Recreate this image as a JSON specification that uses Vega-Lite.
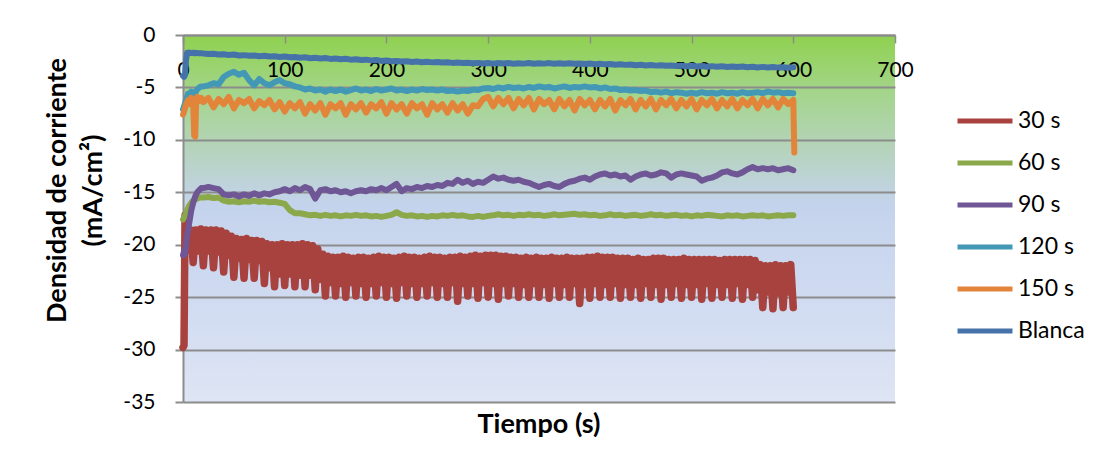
{
"$schema": "https://vega.github.io/schema/vega-lite/v6.json",
"width": 712,
"height": 367,
"autosize": {"type": "none"},
"padding": {"left": 183, "top": 35, "right": 211, "bottom": 69},
"background": "white",
"config": {
  "font": "Lato",
  "view": {"stroke": null, "fill": {"gradient": "linear", "x1": 0, "y1": 0, "x2": 0, "y2": 1, "stops": [
    {"offset": 0, "color": "#8FD14F"},
    {"offset": 0.16, "color": "#A4D58C"},
    {"offset": 0.3, "color": "#B4D3B8"},
    {"offset": 0.46, "color": "#C4D3EC"},
    {"offset": 0.72, "color": "#D0DBF1"},
    {"offset": 1, "color": "#DEE5F4"}]}},
  "axis": {"labelColor": "#000000", "titleColor": "#000000", "labelFont": "Lato", "titleFont": "Lato"}
},
"title": {"text": "Tiempo (s)", "orient": "bottom", "anchor": "middle", "frame": "group", "fontSize": 27, "fontWeight": "bold", "color": "#000000", "offset": 0},
"datasets": {
"r": [
{"t":0,"30 s":-29.8},{"t":1,"30 s":-29.6},{"t":2,"30 s":-17.2},{"t":2.5,"30 s":-18.4},{"t":5,"30 s":-20.5},{"t":7.5,"30 s":-18.6},{"t":10,"30 s":-21.7},{"t":12.5,"30 s":-18.6},{"t":15,"30 s":-20.6},{"t":17.5,"30 s":-18.5},{"t":20,"30 s":-22.0},{"t":22.5,"30 s":-18.6},{"t":25,"30 s":-20.6},{"t":27.5,"30 s":-18.6},{"t":30,"30 s":-22.2},{"t":32.5,"30 s":-18.6},{"t":35,"30 s":-20.7},{"t":37.5,"30 s":-18.7},{"t":40,"30 s":-22.6},{"t":42.5,"30 s":-18.9},{"t":45,"30 s":-21.0},{"t":47.5,"30 s":-19.2},{"t":50,"30 s":-23.1},{"t":52.5,"30 s":-19.4},{"t":55,"30 s":-21.3},{"t":57.5,"30 s":-19.5},{"t":60,"30 s":-23.2},{"t":62.5,"30 s":-19.4},{"t":65,"30 s":-21.4},{"t":67.5,"30 s":-19.6},{"t":70,"30 s":-23.2},{"t":72.5,"30 s":-19.6},{"t":75,"30 s":-21.5},{"t":77.5,"30 s":-19.7},{"t":80,"30 s":-23.7},{"t":82.5,"30 s":-19.9},{"t":85,"30 s":-22.2},{"t":87.5,"30 s":-20.0},{"t":90,"30 s":-24.0},{"t":92.5,"30 s":-20.0},{"t":95,"30 s":-22.8},{"t":97.5,"30 s":-19.9},{"t":100,"30 s":-23.9},{"t":102.5,"30 s":-20.0},{"t":105,"30 s":-22.8},{"t":107.5,"30 s":-20.0},{"t":110,"30 s":-24.0},{"t":112.5,"30 s":-20.0},{"t":115,"30 s":-22.9},{"t":117.5,"30 s":-19.9},{"t":120,"30 s":-24.0},{"t":122.5,"30 s":-20.0},{"t":125,"30 s":-22.9},{"t":127.5,"30 s":-20.1},{"t":130,"30 s":-24.3},{"t":132.5,"30 s":-20.4},{"t":135,"30 s":-23.3},{"t":137.5,"30 s":-20.9},{"t":140,"30 s":-24.9},{"t":142.5,"30 s":-21.1},{"t":145,"30 s":-23.6},{"t":147.5,"30 s":-21.2},{"t":150,"30 s":-24.9},{"t":152.5,"30 s":-21.2},{"t":155,"30 s":-23.7},{"t":157.5,"30 s":-21.1},{"t":160,"30 s":-25.0},{"t":162.5,"30 s":-21.2},{"t":165,"30 s":-23.6},{"t":167.5,"30 s":-21.3},{"t":170,"30 s":-24.9},{"t":172.5,"30 s":-21.2},{"t":175,"30 s":-23.7},{"t":177.5,"30 s":-21.2},{"t":180,"30 s":-25.0},{"t":182.5,"30 s":-21.3},{"t":185,"30 s":-23.7},{"t":187.5,"30 s":-21.2},{"t":190,"30 s":-24.9},{"t":192.5,"30 s":-21.1},{"t":195,"30 s":-23.6},{"t":197.5,"30 s":-21.2},{"t":200,"30 s":-25.0},{"t":202.5,"30 s":-21.2},{"t":205,"30 s":-23.7},{"t":207.5,"30 s":-21.3},{"t":210,"30 s":-25.1},{"t":212.5,"30 s":-21.2},{"t":215,"30 s":-23.6},{"t":217.5,"30 s":-21.1},{"t":220,"30 s":-24.9},{"t":222.5,"30 s":-21.2},{"t":225,"30 s":-23.7},{"t":227.5,"30 s":-21.2},{"t":230,"30 s":-25.0},{"t":232.5,"30 s":-21.3},{"t":235,"30 s":-23.7},{"t":237.5,"30 s":-21.2},{"t":240,"30 s":-24.9},{"t":242.5,"30 s":-21.1},{"t":245,"30 s":-23.6},{"t":247.5,"30 s":-21.2},{"t":250,"30 s":-25.0},{"t":252.5,"30 s":-21.2},{"t":255,"30 s":-23.7},{"t":257.5,"30 s":-21.3},{"t":260,"30 s":-25.0},{"t":262.5,"30 s":-21.2},{"t":265,"30 s":-23.6},{"t":267.5,"30 s":-21.2},{"t":270,"30 s":-25.4},{"t":272.5,"30 s":-21.1},{"t":275,"30 s":-23.7},{"t":277.5,"30 s":-21.2},{"t":280,"30 s":-24.9},{"t":282.5,"30 s":-21.1},{"t":285,"30 s":-23.7},{"t":287.5,"30 s":-21.0},{"t":290,"30 s":-25.1},{"t":292.5,"30 s":-21.1},{"t":295,"30 s":-23.6},{"t":297.5,"30 s":-21.0},{"t":300,"30 s":-25.0},{"t":302.5,"30 s":-21.0},{"t":305,"30 s":-23.7},{"t":307.5,"30 s":-21.0},{"t":310,"30 s":-25.2},{"t":312.5,"30 s":-21.1},{"t":315,"30 s":-23.7},{"t":317.5,"30 s":-21.1},{"t":320,"30 s":-24.9},{"t":322.5,"30 s":-21.2},{"t":325,"30 s":-23.7},{"t":327.5,"30 s":-21.2},{"t":330,"30 s":-25.0},{"t":332.5,"30 s":-21.3},{"t":335,"30 s":-23.8},{"t":337.5,"30 s":-21.2},{"t":340,"30 s":-25.0},{"t":342.5,"30 s":-21.3},{"t":345,"30 s":-23.7},{"t":347.5,"30 s":-21.2},{"t":350,"30 s":-25.0},{"t":352.5,"30 s":-21.3},{"t":355,"30 s":-23.8},{"t":357.5,"30 s":-21.3},{"t":360,"30 s":-25.1},{"t":362.5,"30 s":-21.2},{"t":365,"30 s":-23.7},{"t":367.5,"30 s":-21.3},{"t":370,"30 s":-25.0},{"t":372.5,"30 s":-21.3},{"t":375,"30 s":-23.8},{"t":377.5,"30 s":-21.2},{"t":380,"30 s":-25.0},{"t":382.5,"30 s":-21.3},{"t":385,"30 s":-23.7},{"t":387.5,"30 s":-21.3},{"t":390,"30 s":-25.6},{"t":392.5,"30 s":-21.3},{"t":395,"30 s":-23.8},{"t":397.5,"30 s":-21.2},{"t":400,"30 s":-25.1},{"t":402.5,"30 s":-21.2},{"t":405,"30 s":-23.7},{"t":407.5,"30 s":-21.1},{"t":410,"30 s":-25.0},{"t":412.5,"30 s":-21.2},{"t":415,"30 s":-23.8},{"t":417.5,"30 s":-21.2},{"t":420,"30 s":-25.0},{"t":422.5,"30 s":-21.2},{"t":425,"30 s":-23.7},{"t":427.5,"30 s":-21.3},{"t":430,"30 s":-25.1},{"t":432.5,"30 s":-21.3},{"t":435,"30 s":-23.8},{"t":437.5,"30 s":-21.3},{"t":440,"30 s":-25.0},{"t":442.5,"30 s":-21.4},{"t":445,"30 s":-23.8},{"t":447.5,"30 s":-21.3},{"t":450,"30 s":-25.1},{"t":452.5,"30 s":-21.4},{"t":455,"30 s":-23.7},{"t":457.5,"30 s":-21.4},{"t":460,"30 s":-25.0},{"t":462.5,"30 s":-21.3},{"t":465,"30 s":-23.8},{"t":467.5,"30 s":-21.3},{"t":470,"30 s":-25.2},{"t":472.5,"30 s":-21.3},{"t":475,"30 s":-23.8},{"t":477.5,"30 s":-21.4},{"t":480,"30 s":-25.0},{"t":482.5,"30 s":-21.4},{"t":485,"30 s":-23.7},{"t":487.5,"30 s":-21.4},{"t":490,"30 s":-25.1},{"t":492.5,"30 s":-21.3},{"t":495,"30 s":-23.8},{"t":497.5,"30 s":-21.4},{"t":500,"30 s":-25.0},{"t":502.5,"30 s":-21.4},{"t":505,"30 s":-23.8},{"t":507.5,"30 s":-21.4},{"t":510,"30 s":-25.2},{"t":512.5,"30 s":-21.4},{"t":515,"30 s":-23.7},{"t":517.5,"30 s":-21.4},{"t":520,"30 s":-25.1},{"t":522.5,"30 s":-21.4},{"t":525,"30 s":-23.8},{"t":527.5,"30 s":-21.5},{"t":530,"30 s":-25.0},{"t":532.5,"30 s":-21.4},{"t":535,"30 s":-23.8},{"t":537.5,"30 s":-21.4},{"t":540,"30 s":-25.1},{"t":542.5,"30 s":-21.4},{"t":545,"30 s":-23.7},{"t":547.5,"30 s":-21.4},{"t":550,"30 s":-25.2},{"t":552.5,"30 s":-21.4},{"t":555,"30 s":-23.8},{"t":557.5,"30 s":-21.4},{"t":560,"30 s":-25.0},{"t":562.5,"30 s":-21.5},{"t":565,"30 s":-24.3},{"t":567.5,"30 s":-21.9},{"t":570,"30 s":-26.0},{"t":572.5,"30 s":-22.0},{"t":575,"30 s":-24.5},{"t":577.5,"30 s":-22.0},{"t":580,"30 s":-26.1},{"t":582.5,"30 s":-21.9},{"t":585,"30 s":-24.6},{"t":587.5,"30 s":-22.0},{"t":590,"30 s":-26.0},{"t":592.5,"30 s":-22.0},{"t":595,"30 s":-24.5},{"t":597.5,"30 s":-21.9},{"t":600,"30 s":-26.0}
],
"w": [
{"t":0,"60 s":-17.6,"90 s":-21.0,"120 s":-7.1,"150 s":-7.6,"Blanca":-3.9},
{"t":1,"60 s":-17.4,"90 s":-20.6,"120 s":-6.8,"150 s":-7.3,"Blanca":-4.0},
{"t":2,"60 s":-17.2,"90 s":-20.9,"120 s":-6.5,"150 s":-7.0,"Blanca":-3.8},
{"t":3,"60 s":-17.0,"90 s":-20.0,"120 s":-6.2,"150 s":-6.6,"Blanca":-2.4},
{"t":4,"60 s":-16.7,"90 s":-19.2,"120 s":-5.9,"150 s":-6.4,"Blanca":-1.7},
{"t":5,"60 s":-16.5,"90 s":-18.6,"120 s":-5.6,"150 s":-6.2,"Blanca":-1.75},
{"t":6,"60 s":-16.3,"90 s":-18.0,"120 s":-5.8,"150 s":-6.6,"Blanca":-1.68},
{"t":8,"60 s":-16.0,"90 s":-16.8,"120 s":-5.4,"150 s":-6.0,"Blanca":-1.72},
{"t":10,"60 s":-15.8,"90 s":-16.0,"120 s":-5.6,"150 s":-6.4,"Blanca":-1.7},
{"t":11,"60 s":-15.75,"90 s":-15.7,"120 s":-5.9,"150 s":-9.6,"Blanca":-1.74},
{"t":12,"60 s":-15.7,"90 s":-15.4,"120 s":-5.6,"150 s":-9.7,"Blanca":-1.7},
{"t":13,"60 s":-15.65,"90 s":-15.2,"120 s":-5.3,"150 s":-6.2,"Blanca":-1.73},
{"t":14,"60 s":-15.6,"90 s":-15.0,"120 s":-5.2,"150 s":-5.9,"Blanca":-1.72},
{"t":16,"60 s":-15.5,"90 s":-14.8,"120 s":-5.0,"150 s":-6.3,"Blanca":-1.75},
{"t":18,"60 s":-15.5,"90 s":-14.6,"120 s":-4.9,"150 s":-6.0,"Blanca":-1.73},
{"t":20,"60 s":-15.5,"90 s":-14.6,"120 s":-4.9,"150 s":-6.4,"Blanca":-1.76},
{"t":25,"60 s":-15.45,"90 s":-14.5,"120 s":-4.8,"150 s":-6.0,"Blanca":-1.82},
{"t":30,"60 s":-15.55,"90 s":-14.6,"120 s":-4.6,"150 s":-6.9,"Blanca":-1.78},
{"t":35,"60 s":-15.5,"90 s":-14.7,"120 s":-4.7,"150 s":-6.1,"Blanca":-1.86},
{"t":40,"60 s":-15.8,"90 s":-15.2,"120 s":-4.0,"150 s":-6.6,"Blanca":-1.84},
{"t":45,"60 s":-15.9,"90 s":-15.3,"120 s":-3.7,"150 s":-5.9,"Blanca":-1.9},
{"t":50,"60 s":-15.85,"90 s":-15.2,"120 s":-3.5,"150 s":-7.0,"Blanca":-1.86},
{"t":55,"60 s":-15.95,"90 s":-15.4,"120 s":-3.8,"150 s":-6.2,"Blanca":-1.95},
{"t":60,"60 s":-15.85,"90 s":-15.2,"120 s":-3.6,"150 s":-6.5,"Blanca":-1.92},
{"t":65,"60 s":-15.9,"90 s":-15.35,"120 s":-4.3,"150 s":-6.1,"Blanca":-1.97},
{"t":70,"60 s":-15.8,"90 s":-15.1,"120 s":-4.8,"150 s":-7.0,"Blanca":-1.95},
{"t":75,"60 s":-15.9,"90 s":-15.3,"120 s":-4.2,"150 s":-6.3,"Blanca":-2.02},
{"t":80,"60 s":-15.85,"90 s":-15.1,"120 s":-4.6,"150 s":-6.7,"Blanca":-1.98},
{"t":85,"60 s":-15.95,"90 s":-15.2,"120 s":-4.8,"150 s":-6.2,"Blanca":-2.05},
{"t":90,"60 s":-15.9,"90 s":-15.0,"120 s":-4.5,"150 s":-7.1,"Blanca":-2.02},
{"t":95,"60 s":-16.0,"90 s":-14.9,"120 s":-4.3,"150 s":-6.4,"Blanca":-2.09},
{"t":100,"60 s":-16.1,"90 s":-14.7,"120 s":-4.6,"150 s":-7.3,"Blanca":-2.06},
{"t":105,"60 s":-16.7,"90 s":-14.9,"120 s":-4.7,"150 s":-6.5,"Blanca":-2.12},
{"t":110,"60 s":-17.0,"90 s":-14.6,"120 s":-4.9,"150 s":-7.0,"Blanca":-2.1},
{"t":115,"60 s":-17.0,"90 s":-14.8,"120 s":-5.0,"150 s":-6.4,"Blanca":-2.17},
{"t":120,"60 s":-17.1,"90 s":-14.5,"120 s":-5.2,"150 s":-7.5,"Blanca":-2.13},
{"t":125,"60 s":-17.2,"90 s":-14.7,"120 s":-5.1,"150 s":-6.6,"Blanca":-2.21},
{"t":130,"60 s":-17.15,"90 s":-15.6,"120 s":-5.3,"150 s":-7.2,"Blanca":-2.17},
{"t":135,"60 s":-17.25,"90 s":-14.8,"120 s":-5.2,"150 s":-6.5,"Blanca":-2.24},
{"t":140,"60 s":-17.15,"90 s":-14.7,"120 s":-5.4,"150 s":-7.6,"Blanca":-2.2},
{"t":145,"60 s":-17.25,"90 s":-14.9,"120 s":-5.2,"150 s":-6.6,"Blanca":-2.28},
{"t":150,"60 s":-17.2,"90 s":-14.8,"120 s":-5.35,"150 s":-7.0,"Blanca":-2.25},
{"t":155,"60 s":-17.3,"90 s":-15.0,"120 s":-5.2,"150 s":-6.5,"Blanca":-2.31},
{"t":160,"60 s":-17.2,"90 s":-14.9,"120 s":-5.4,"150 s":-7.6,"Blanca":-2.27},
{"t":165,"60 s":-17.25,"90 s":-15.1,"120 s":-5.25,"150 s":-6.6,"Blanca":-2.35},
{"t":170,"60 s":-17.15,"90 s":-14.9,"120 s":-5.1,"150 s":-7.1,"Blanca":-2.31},
{"t":175,"60 s":-17.25,"90 s":-14.8,"120 s":-5.3,"150 s":-6.5,"Blanca":-2.39},
{"t":180,"60 s":-17.2,"90 s":-14.9,"120 s":-5.2,"150 s":-7.4,"Blanca":-2.35},
{"t":185,"60 s":-17.3,"90 s":-14.7,"120 s":-5.35,"150 s":-6.6,"Blanca":-2.42},
{"t":190,"60 s":-17.25,"90 s":-14.8,"120 s":-5.15,"150 s":-7.0,"Blanca":-2.39},
{"t":195,"60 s":-17.35,"90 s":-14.6,"120 s":-5.3,"150 s":-6.4,"Blanca":-2.47},
{"t":200,"60 s":-17.25,"90 s":-14.8,"120 s":-5.2,"150 s":-7.5,"Blanca":-2.44},
{"t":205,"60 s":-17.15,"90 s":-14.5,"120 s":-5.1,"150 s":-6.5,"Blanca":-2.5},
{"t":210,"60 s":-16.9,"90 s":-14.2,"120 s":-5.3,"150 s":-7.1,"Blanca":-2.47},
{"t":215,"60 s":-17.15,"90 s":-14.9,"120 s":-5.2,"150 s":-6.6,"Blanca":-2.53},
{"t":220,"60 s":-17.25,"90 s":-14.6,"120 s":-5.35,"150 s":-7.5,"Blanca":-2.5},
{"t":225,"60 s":-17.2,"90 s":-14.7,"120 s":-5.2,"150 s":-6.5,"Blanca":-2.57},
{"t":230,"60 s":-17.3,"90 s":-14.5,"120 s":-5.3,"150 s":-7.0,"Blanca":-2.53},
{"t":235,"60 s":-17.25,"90 s":-14.6,"120 s":-5.15,"150 s":-6.6,"Blanca":-2.6},
{"t":240,"60 s":-17.35,"90 s":-14.4,"120 s":-5.25,"150 s":-7.6,"Blanca":-2.55},
{"t":245,"60 s":-17.25,"90 s":-14.5,"120 s":-5.2,"150 s":-6.5,"Blanca":-2.61},
{"t":250,"60 s":-17.3,"90 s":-14.3,"120 s":-5.3,"150 s":-7.1,"Blanca":-2.57},
{"t":255,"60 s":-17.2,"90 s":-14.4,"120 s":-5.2,"150 s":-6.6,"Blanca":-2.63},
{"t":260,"60 s":-17.25,"90 s":-14.1,"120 s":-5.35,"150 s":-7.4,"Blanca":-2.59},
{"t":265,"60 s":-17.15,"90 s":-14.2,"120 s":-5.3,"150 s":-6.5,"Blanca":-2.66},
{"t":270,"60 s":-17.25,"90 s":-13.8,"120 s":-5.4,"150 s":-7.2,"Blanca":-2.62},
{"t":275,"60 s":-17.2,"90 s":-14.1,"120 s":-5.3,"150 s":-6.6,"Blanca":-2.67},
{"t":280,"60 s":-17.3,"90 s":-13.9,"120 s":-5.35,"150 s":-7.5,"Blanca":-2.64},
{"t":285,"60 s":-17.35,"90 s":-14.2,"120 s":-5.2,"150 s":-6.7,"Blanca":-2.7},
{"t":290,"60 s":-17.25,"90 s":-14.0,"120 s":-5.25,"150 s":-6.8,"Blanca":-2.66},
{"t":295,"60 s":-17.35,"90 s":-14.1,"120 s":-5.1,"150 s":-6.1,"Blanca":-2.72},
{"t":300,"60 s":-17.25,"90 s":-13.8,"120 s":-5.05,"150 s":-5.9,"Blanca":-2.68},
{"t":305,"60 s":-17.2,"90 s":-13.5,"120 s":-5.15,"150 s":-6.8,"Blanca":-2.73},
{"t":310,"60 s":-17.1,"90 s":-13.7,"120 s":-5.0,"150 s":-6.0,"Blanca":-2.67},
{"t":315,"60 s":-17.2,"90 s":-13.6,"120 s":-5.1,"150 s":-6.6,"Blanca":-2.72},
{"t":320,"60 s":-17.15,"90 s":-13.8,"120 s":-4.95,"150 s":-6.0,"Blanca":-2.68},
{"t":325,"60 s":-17.25,"90 s":-13.9,"120 s":-5.05,"150 s":-7.0,"Blanca":-2.74},
{"t":330,"60 s":-17.15,"90 s":-13.8,"120 s":-5.0,"150 s":-6.1,"Blanca":-2.69},
{"t":335,"60 s":-17.2,"90 s":-14.0,"120 s":-5.1,"150 s":-6.7,"Blanca":-2.73},
{"t":340,"60 s":-17.1,"90 s":-14.1,"120 s":-4.95,"150 s":-6.0,"Blanca":-2.67},
{"t":345,"60 s":-17.2,"90 s":-14.3,"120 s":-5.05,"150 s":-7.1,"Blanca":-2.74},
{"t":350,"60 s":-17.15,"90 s":-14.5,"120 s":-4.9,"150 s":-6.1,"Blanca":-2.7},
{"t":355,"60 s":-17.25,"90 s":-14.3,"120 s":-5.0,"150 s":-6.6,"Blanca":-2.73},
{"t":360,"60 s":-17.2,"90 s":-14.2,"120 s":-4.95,"150 s":-6.2,"Blanca":-2.68},
{"t":365,"60 s":-17.1,"90 s":-14.4,"120 s":-5.1,"150 s":-7.1,"Blanca":-2.75},
{"t":370,"60 s":-17.2,"90 s":-14.5,"120 s":-5.0,"150 s":-6.1,"Blanca":-2.7},
{"t":375,"60 s":-17.15,"90 s":-14.2,"120 s":-4.9,"150 s":-6.8,"Blanca":-2.74},
{"t":380,"60 s":-17.1,"90 s":-14.0,"120 s":-5.05,"150 s":-6.2,"Blanca":-2.69},
{"t":385,"60 s":-17.05,"90 s":-13.9,"120 s":-4.95,"150 s":-7.2,"Blanca":-2.75},
{"t":390,"60 s":-17.15,"90 s":-13.7,"120 s":-5.0,"150 s":-6.1,"Blanca":-2.71},
{"t":395,"60 s":-17.1,"90 s":-13.6,"120 s":-4.9,"150 s":-6.7,"Blanca":-2.76},
{"t":400,"60 s":-17.2,"90 s":-13.8,"120 s":-5.0,"150 s":-6.2,"Blanca":-2.71},
{"t":405,"60 s":-17.15,"90 s":-13.5,"120 s":-4.95,"150 s":-7.1,"Blanca":-2.78},
{"t":410,"60 s":-17.25,"90 s":-13.3,"120 s":-5.1,"150 s":-6.2,"Blanca":-2.74},
{"t":415,"60 s":-17.2,"90 s":-13.2,"120 s":-5.0,"150 s":-6.8,"Blanca":-2.8},
{"t":420,"60 s":-17.1,"90 s":-13.4,"120 s":-5.15,"150 s":-6.1,"Blanca":-2.76},
{"t":425,"60 s":-17.2,"90 s":-13.3,"120 s":-5.1,"150 s":-7.2,"Blanca":-2.83},
{"t":430,"60 s":-17.15,"90 s":-13.5,"120 s":-5.25,"150 s":-6.2,"Blanca":-2.79},
{"t":435,"60 s":-17.25,"90 s":-13.4,"120 s":-5.2,"150 s":-6.7,"Blanca":-2.85},
{"t":440,"60 s":-17.2,"90 s":-13.8,"120 s":-5.3,"150 s":-6.1,"Blanca":-2.81},
{"t":445,"60 s":-17.15,"90 s":-13.5,"120 s":-5.25,"150 s":-7.1,"Blanca":-2.88},
{"t":450,"60 s":-17.25,"90 s":-13.3,"120 s":-5.35,"150 s":-6.2,"Blanca":-2.84},
{"t":455,"60 s":-17.2,"90 s":-13.2,"120 s":-5.3,"150 s":-6.8,"Blanca":-2.9},
{"t":460,"60 s":-17.1,"90 s":-13.4,"120 s":-5.45,"150 s":-6.1,"Blanca":-2.86},
{"t":465,"60 s":-17.2,"90 s":-13.3,"120 s":-5.4,"150 s":-7.1,"Blanca":-2.92},
{"t":470,"60 s":-17.15,"90 s":-13.1,"120 s":-5.5,"150 s":-6.2,"Blanca":-2.88},
{"t":475,"60 s":-17.25,"90 s":-13.2,"120 s":-5.4,"150 s":-6.7,"Blanca":-2.94},
{"t":480,"60 s":-17.2,"90 s":-13.6,"120 s":-5.55,"150 s":-6.1,"Blanca":-2.9},
{"t":485,"60 s":-17.15,"90 s":-13.3,"120 s":-5.45,"150 s":-7.0,"Blanca":-2.96},
{"t":490,"60 s":-17.25,"90 s":-13.2,"120 s":-5.5,"150 s":-6.2,"Blanca":-2.92},
{"t":495,"60 s":-17.2,"90 s":-13.3,"120 s":-5.6,"150 s":-6.8,"Blanca":-2.98},
{"t":500,"60 s":-17.3,"90 s":-13.4,"120 s":-5.5,"150 s":-6.1,"Blanca":-2.94},
{"t":505,"60 s":-17.2,"90 s":-13.5,"120 s":-5.6,"150 s":-7.1,"Blanca":-3.0},
{"t":510,"60 s":-17.25,"90 s":-13.9,"120 s":-5.45,"150 s":-6.2,"Blanca":-2.96},
{"t":515,"60 s":-17.15,"90 s":-13.7,"120 s":-5.55,"150 s":-6.7,"Blanca":-3.02},
{"t":520,"60 s":-17.2,"90 s":-13.6,"120 s":-5.5,"150 s":-6.1,"Blanca":-2.97},
{"t":525,"60 s":-17.25,"90 s":-13.4,"120 s":-5.6,"150 s":-7.0,"Blanca":-3.03},
{"t":530,"60 s":-17.3,"90 s":-13.1,"120 s":-5.45,"150 s":-6.2,"Blanca":-2.99},
{"t":535,"60 s":-17.2,"90 s":-13.0,"120 s":-5.55,"150 s":-6.8,"Blanca":-3.05},
{"t":540,"60 s":-17.25,"90 s":-13.2,"120 s":-5.5,"150 s":-6.1,"Blanca":-3.0},
{"t":545,"60 s":-17.2,"90 s":-13.3,"120 s":-5.6,"150 s":-7.0,"Blanca":-3.06},
{"t":550,"60 s":-17.3,"90 s":-13.1,"120 s":-5.45,"150 s":-6.2,"Blanca":-3.01},
{"t":555,"60 s":-17.25,"90 s":-12.8,"120 s":-5.55,"150 s":-6.7,"Blanca":-3.07},
{"t":560,"60 s":-17.2,"90 s":-12.6,"120 s":-5.5,"150 s":-6.1,"Blanca":-3.03},
{"t":565,"60 s":-17.25,"90 s":-12.8,"120 s":-5.45,"150 s":-7.0,"Blanca":-3.09},
{"t":570,"60 s":-17.2,"90 s":-12.7,"120 s":-5.55,"150 s":-6.1,"Blanca":-3.04},
{"t":575,"60 s":-17.3,"90 s":-12.8,"120 s":-5.4,"150 s":-6.7,"Blanca":-3.1},
{"t":580,"60 s":-17.25,"90 s":-12.7,"120 s":-5.5,"150 s":-6.1,"Blanca":-3.05},
{"t":585,"60 s":-17.2,"90 s":-12.9,"120 s":-5.45,"150 s":-6.9,"Blanca":-3.11},
{"t":590,"60 s":-17.25,"90 s":-12.8,"120 s":-5.55,"150 s":-6.1,"Blanca":-3.07},
{"t":595,"60 s":-17.2,"90 s":-12.7,"120 s":-5.5,"150 s":-6.6,"Blanca":-3.12},
{"t":600,"60 s":-17.2,"90 s":-12.9,"120 s":-5.55,"150 s":-6.2,"Blanca":-3.08},
{"t":601,"150 s":-11.2}
]
},
"encoding": {
  "x": {"field": "t", "type": "quantitative",
    "scale": {"domain": [0, 700], "nice": false, "zero": false},
    "axis": {"orient": "bottom", "offset": -367, "values": [0,100,200,300,400,500,600,700], "grid": false,
      "tickSize": 8, "tickColor": "#8C8C8C", "tickWidth": 1.5, "domainColor": "#8C8C8C", "domainWidth": 2,
      "labelFontSize": 21, "labelPadding": 16, "labelFlush": false, "labelOverlap": false, "title": null}},
  "y": {"field": "v", "type": "quantitative",
    "scale": {"domain": [-35, 0], "nice": false, "zero": false},
    "axis": {"values": [0,-5,-10,-15,-20,-25,-30,-35], "grid": true, "gridColor": "#8C8C8C", "gridWidth": 2,
      "labelExpr": "datum.value + ''",
      "tickSize": 8, "tickColor": "#8C8C8C", "tickWidth": 2, "domainColor": "#8C8C8C", "domainWidth": 2,
      "labelFontSize": 21, "labelPadding": 20, "labelFlush": false, "labelOverlap": false,
      "title": ["Densidad de corriente", "(mA/cm²)"], "titleFontSize": 27, "titleFontWeight": "bold",
      "titleLineHeight": 36, "titlePadding": 15, "titleY": 155}},
  "color": {"field": "serie", "type": "nominal",
    "scale": {"domain": ["30 s", "60 s", "90 s", "120 s", "150 s", "Blanca"],
      "range": ["#A8423F", "#8BA84B", "#6F5695", "#4399B5", "#E2843A", "#4672AA"]},
    "legend": {"orient": "none", "legendX": 772, "legendY": 56, "title": null, "symbolType": "stroke",
      "symbolSize": 3025, "symbolStrokeWidth": 5, "labelFontSize": 23, "labelColor": "#000000",
      "rowPadding": -7, "labelOffset": 3, "labelFont": "Lato"}}
},
"layer": [
  {"data": {"name": "r"}, "transform": [{"fold": ["30 s"], "as": ["serie", "v"]}],
   "mark": {"type": "line", "strokeWidth": 7.5, "strokeCap": "round", "strokeJoin": "round"}},
  {"data": {"name": "w"}, "transform": [{"fold": ["60 s", "90 s", "120 s", "150 s", "Blanca"], "as": ["serie", "v"]}],
   "mark": {"type": "line", "strokeWidth": 6, "strokeCap": "round", "strokeJoin": "round"}}
]
}
